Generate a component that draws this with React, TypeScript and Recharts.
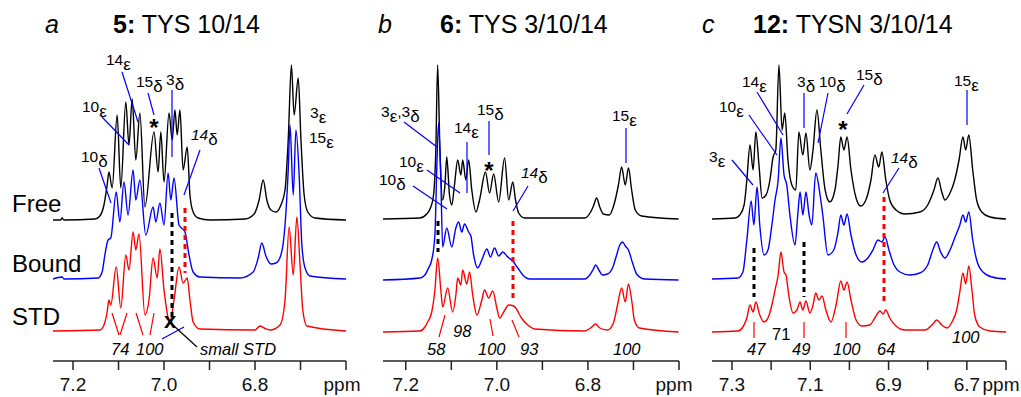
import React from 'react';
import { LineChart, Line, XAxis, YAxis } from 'recharts';

type Pt = [number, number];

// [ppm, height above the trace's own baseline]
// panel a  -  5: TYS 10/14
const freeA: Pt[] = [
  [7.244, 0], [7.227, 0], [7.224, 2], [7.22, 0], [7.152, 1], [7.141, 4], [7.132, 15], [7.125, 35],
  [7.121, 48], [7.114, 32], [7.103, 105], [7.095, 32], [7.084, 118], [7.077, 75], [7.07, 121],
  [7.062, 60], [7.053, 107], [7.042, 13], [7.022, 88], [7.013, 48], [7.007, 88], [7.0, 38],
  [6.989, 107], [6.982, 80], [6.976, 110], [6.971, 85], [6.965, 110], [6.958, 50], [6.949, 73],
  [6.943, 25], [6.936, 8], [6.925, 2], [6.899, 0], [6.822, 1], [6.802, 6], [6.791, 20], [6.782, 40],
  [6.774, 20], [6.765, 10], [6.754, 8], [6.743, 15], [6.734, 30], [6.727, 80], [6.72, 155],
  [6.714, 105], [6.705, 142], [6.699, 80], [6.692, 25], [6.684, 8], [6.668, 2], [6.6, 0],
];
const boundA: Pt[] = [
  [7.244, 0], [7.224, 2], [7.22, 0], [7.145, 1], [7.136, 7], [7.13, 24], [7.123, 39], [7.117, 41],
  [7.105, 87], [7.097, 57], [7.088, 97], [7.079, 64], [7.068, 109], [7.062, 79], [7.053, 99],
  [7.04, 44], [7.024, 72], [7.018, 57], [7.009, 76], [7.0, 54], [6.991, 106], [6.985, 79],
  [6.978, 101], [6.967, 54], [6.954, 47], [6.945, 24], [6.936, 7], [6.921, 2], [6.833, 1],
  [6.804, 7], [6.793, 21], [6.785, 36], [6.776, 23], [6.765, 15], [6.754, 16], [6.743, 24],
  [6.734, 54], [6.727, 109], [6.723, 154], [6.716, 84], [6.71, 149], [6.703, 104], [6.697, 34],
  [6.69, 11], [6.679, 3], [6.6, 0],
];
const stdA: Pt[] = [
  [7.244, 0], [7.141, 1], [7.132, 6], [7.125, 19], [7.121, 31], [7.117, 26], [7.105, 64],
  [7.095, 23], [7.084, 76], [7.077, 61], [7.068, 99], [7.062, 81], [7.055, 97], [7.042, 16],
  [7.033, 31], [7.024, 73], [7.015, 53], [7.009, 82], [7.0, 41], [6.987, 9], [6.978, 31],
  [6.967, 64], [6.958, 48], [6.949, 53], [6.943, 31], [6.936, 9], [6.921, 2], [6.8, 1],
  [6.789, 5], [6.78, 3], [6.767, 1], [6.745, 6], [6.734, 31], [6.725, 104], [6.716, 56],
  [6.708, 114], [6.701, 66], [6.695, 21], [6.686, 5], [6.6, 0],
];

// panel b  -  6: TYS 3/10/14
const freeB: Pt[] = [
  [7.25, 0], [7.169, 1], [7.154, 5], [7.145, 12], [7.139, 24], [7.134, 69], [7.13, 154],
  [7.125, 69], [7.119, 19], [7.114, 34], [7.11, 62], [7.104, 24], [7.099, 14], [7.093, 34],
  [7.086, 59], [7.079, 44], [7.075, 59], [7.068, 39], [7.062, 59], [7.055, 29], [7.046, 7],
  [7.038, 19], [7.025, 47], [7.016, 26], [7.007, 45], [6.996, 17], [6.983, 61], [6.974, 19],
  [6.965, 37], [6.959, 19], [6.952, 6], [6.939, 1], [6.807, 1], [6.794, 7], [6.787, 14],
  [6.781, 21], [6.774, 12], [6.766, 5], [6.753, 4], [6.743, 14], [6.733, 34], [6.726, 52],
  [6.718, 34], [6.711, 51], [6.704, 29], [6.696, 9], [6.682, 3], [6.601, 0],
];
const boundB: Pt[] = [
  [7.25, 0], [7.169, 2], [7.158, 5], [7.15, 12], [7.143, 20], [7.136, 45], [7.132, 110],
  [7.128, 157], [7.123, 100], [7.119, 33], [7.11, 52], [7.099, 33], [7.09, 52], [7.084, 58],
  [7.077, 48], [7.071, 56], [7.062, 48], [7.057, 44], [7.051, 25], [7.042, 12], [7.033, 20],
  [7.022, 31], [7.014, 23], [7.005, 32], [6.996, 24], [6.987, 28], [6.976, 23], [6.965, 19],
  [6.954, 12], [6.943, 5], [6.928, 1], [6.807, 1], [6.796, 5], [6.789, 10], [6.783, 15],
  [6.776, 10], [6.768, 5], [6.757, 6], [6.746, 12], [6.737, 25], [6.73, 35], [6.724, 38],
  [6.718, 34], [6.711, 30], [6.702, 17], [6.693, 6], [6.676, 1], [6.601, 0],
];
const stdB: Pt[] = [
  [7.25, 0], [7.169, 1], [7.158, 5], [7.152, 10], [7.143, 20], [7.136, 42], [7.13, 74],
  [7.123, 42], [7.119, 25], [7.108, 44], [7.097, 20], [7.09, 37], [7.086, 54], [7.079, 47],
  [7.075, 62], [7.066, 48], [7.06, 60], [7.053, 37], [7.044, 17], [7.033, 32], [7.027, 42],
  [7.018, 34], [7.009, 41], [7.0, 24], [6.994, 14], [6.985, 20], [6.974, 27], [6.963, 26],
  [6.957, 23], [6.946, 14], [6.932, 7], [6.917, 3], [6.807, 1], [6.794, 4], [6.783, 8],
  [6.774, 4], [6.757, 2], [6.744, 9], [6.735, 27], [6.726, 44], [6.718, 30], [6.711, 48],
  [6.704, 32], [6.698, 12], [6.687, 4], [6.601, 0],
];

// panel c  -  12: TYSN 3/10/14
const freeC: Pt[] = [
  [7.351, 0], [7.292, 1], [7.28, 4], [7.269, 14], [7.262, 39], [7.254, 74], [7.246, 49],
  [7.239, 87], [7.231, 54], [7.223, 21], [7.213, 24], [7.203, 39], [7.195, 62], [7.188, 69],
  [7.18, 154], [7.172, 89], [7.165, 106], [7.157, 59], [7.147, 34], [7.137, 29], [7.129, 87],
  [7.119, 64], [7.111, 86], [7.101, 49], [7.093, 69], [7.083, 109], [7.073, 69], [7.062, 29],
  [7.05, 17], [7.037, 29], [7.029, 54], [7.022, 82], [7.014, 69], [7.006, 82], [6.996, 49],
  [6.983, 21], [6.971, 13], [6.958, 19], [6.945, 39], [6.935, 64], [6.925, 52], [6.917, 67],
  [6.907, 39], [6.897, 19], [6.881, 9], [6.858, 5], [6.82, 7], [6.8, 14], [6.784, 29],
  [6.774, 41], [6.764, 27], [6.756, 19], [6.743, 26], [6.731, 39], [6.72, 59], [6.71, 82],
  [6.703, 69], [6.695, 84], [6.685, 49], [6.675, 19], [6.662, 7], [6.641, 2], [6.6, 0],
];
const boundC: Pt[] = [
  [7.351, 0], [7.285, 1], [7.272, 7], [7.262, 39], [7.251, 78], [7.244, 54], [7.236, 92],
  [7.229, 54], [7.218, 24], [7.208, 29], [7.198, 54], [7.19, 79], [7.182, 99], [7.175, 141],
  [7.167, 104], [7.16, 94], [7.152, 64], [7.139, 34], [7.132, 64], [7.126, 87], [7.119, 64],
  [7.111, 87], [7.103, 64], [7.096, 54], [7.086, 106], [7.075, 84], [7.068, 64], [7.055, 24],
  [7.04, 29], [7.029, 47], [7.022, 64], [7.014, 54], [7.006, 65], [6.996, 44], [6.983, 24],
  [6.968, 17], [6.953, 21], [6.94, 29], [6.927, 39], [6.917, 37], [6.909, 42], [6.899, 29],
  [6.886, 14], [6.871, 7], [6.846, 4], [6.82, 6], [6.8, 14], [6.787, 29], [6.777, 37],
  [6.767, 27], [6.756, 21], [6.743, 29], [6.731, 41], [6.718, 54], [6.71, 64], [6.703, 57],
  [6.695, 67], [6.685, 39], [6.675, 19], [6.659, 7], [6.636, 2], [6.6, 0],
];
const stdC: Pt[] = [
  [7.351, 0], [7.285, 1], [7.272, 5], [7.262, 14], [7.254, 27], [7.246, 20], [7.239, 30],
  [7.229, 17], [7.218, 10], [7.208, 14], [7.198, 27], [7.19, 42], [7.182, 57], [7.175, 80],
  [7.167, 60], [7.162, 57], [7.155, 37], [7.144, 19], [7.134, 22], [7.126, 30], [7.119, 22],
  [7.111, 31], [7.101, 19], [7.093, 27], [7.086, 39], [7.078, 32], [7.07, 36], [7.06, 22],
  [7.047, 10], [7.034, 27], [7.022, 51], [7.014, 42], [7.006, 50], [6.996, 32], [6.983, 12],
  [6.968, 6], [6.948, 7], [6.935, 14], [6.922, 21], [6.914, 18], [6.907, 22], [6.897, 14],
  [6.881, 6], [6.858, 2], [6.807, 2], [6.789, 7], [6.777, 12], [6.764, 7], [6.751, 4],
  [6.738, 10], [6.726, 22], [6.718, 40], [6.71, 59], [6.703, 48], [6.695, 66], [6.687, 42],
  [6.68, 17], [6.667, 5], [6.641, 1], [6.6, 0],
];

const ticksAB = [7.2, 7.1, 7.0, 6.9, 6.8, 6.7, 6.6];
const ticksC = [7.3, 7.2, 7.1, 7.0, 6.9, 6.8, 6.7, 6.6];
const labelsAB = ['7.2', '7.0', '6.8'];
const labelsC = ['7.3', '7.1', '6.9', '6.7'];

const FONT = '"Liberation Sans", Arial, Helvetica, sans-serif';
const BLUE = '#0000ff';
const RED = '#ff0000';

const H = 397;
const PLOT_H = 321; // plot area is 40..361

interface Panel {
  left: number;
  width: number;
  mLeft: number;
  mRight: number;
  domain: [number, number];
  ticks: number[];
  labels: string[];
  ppmDx: number;
  traces: { data: Pt[]; color: string; base: number }[];
}

const panels: Panel[] = [
  {
    left: 0, width: 360, mLeft: 53, mRight: 14, domain: [6.6, 7.244], ticks: ticksAB, labels: labelsAB, ppmDx: -4,
    traces: [
      { data: freeA, color: '#000', base: 141 },
      { data: boundA, color: BLUE, base: 82 },
      { data: stdA, color: RED, base: 30 },
    ],
  },
  {
    left: 360, width: 340, mLeft: 23, mRight: 21, domain: [6.6, 7.25], ticks: ticksAB, labels: labelsAB, ppmDx: -5,
    traces: [
      { data: freeB, color: '#000', base: 142 },
      { data: boundB, color: BLUE, base: 81 },
      { data: stdB, color: RED, base: 29 },
    ],
  },
  {
    left: 700, width: 321, mLeft: 12, mRight: 15, domain: [6.6, 7.351], ticks: ticksC, labels: labelsC, ppmDx: -5,
    traces: [
      { data: freeC, color: '#000', base: 142 },
      { data: boundC, color: BLUE, base: 82 },
      { data: stdC, color: RED, base: 29 },
    ],
  },
];

const rows = (pts: Pt[], base: number) => pts.map(([x, h]) => ({ x, y: h + base }));

const Spectrum = ({ p }: { p: Panel }) => {
  const renderTick = (props: any) => {
    const { x, y, payload } = props;
    const v = Number(payload.value).toFixed(1);
    let txt = p.labels.includes(v) ? v : '';
    let dx = 0;
    if (v === '6.6') {
      txt = 'ppm';
      dx = p.ppmDx;
    }
    return (
      <text x={x + dx} y={y + 19} textAnchor="middle" fontSize={19} fontFamily={FONT} fill="#111">
        {txt}
      </text>
    );
  };
  return (
    <div style={{ position: 'absolute', left: p.left, top: 0 }}>
      <LineChart width={p.width} height={H} margin={{ top: 40, right: p.mRight, bottom: 0, left: p.mLeft }}>
        <XAxis
          type="number"
          dataKey="x"
          domain={p.domain}
          reversed
          allowDataOverflow
          ticks={p.ticks}
          interval={0}
          height={36}
          tickSize={9}
          stroke="#222"
          strokeWidth={1.5}
          tick={renderTick}
        />
        <YAxis hide type="number" domain={[0, PLOT_H]} allowDataOverflow />
        {p.traces.map((t, i) => (
          <Line
            key={i}
            data={rows(t.data, t.base)}
            dataKey="y"
            type="monotone"
            stroke={t.color}
            strokeWidth={1.4}
            dot={false}
            activeDot={false}
            isAnimationActive={false}
          />
        ))}
      </LineChart>
    </div>
  );
};

// peak label: number + greek subscript
const Tag = ({ x, y, n, g, it }: { x: number; y: number; n: string; g: string; it?: boolean }) => (
  <text x={x} y={y} fontSize={15.5} fontFamily={FONT} fill="#000">
    <tspan fontStyle={it ? 'italic' : 'normal'}>{n}</tspan>
    <tspan fontSize={17} dy={5}>{g}</tspan>
  </text>
);

const Lead = ({ l, c = BLUE, w = 1.2 }: { l: number[]; c?: string; w?: number }) => (
  <line x1={l[0]} y1={l[1]} x2={l[2]} y2={l[3]} stroke={c} strokeWidth={w} />
);

const Dash = ({ x, y1, y2, c }: { x: number; y1: number; y2: number; c: string }) => (
  <line x1={x} y1={y1} x2={x} y2={y2} stroke={c} strokeWidth={3} strokeDasharray="5 4" />
);

const Star = ({ x, y }: { x: number; y: number }) => (
  <text x={x} y={y + 13} textAnchor="middle" fontSize={24} fontWeight="bold" fontFamily={FONT}>*</text>
);

const Num = ({ x, y, t, it = true }: { x: number; y: number; t: string; it?: boolean }) => (
  <text x={x} y={y} fontSize={16.5} fontStyle={it ? 'italic' : 'normal'} fontFamily={FONT}>{t}</text>
);

const Title = ({ x, lx, letter, bold, rest }: { x: number; lx: number; letter: string; bold: string; rest: string }) => (
  <g fontFamily={FONT} fontSize={25}>
    <text x={lx} y={33} fontStyle="italic">{letter}</text>
    <text x={x} y={33}>
      <tspan fontWeight="bold">{bold}</tspan>
      <tspan>{rest}</tspan>
    </text>
  </g>
);

const Notes = () => (
  <svg width={1021} height={H} style={{ position: 'absolute', left: 0, top: 0, pointerEvents: 'none' }}>
    <Title lx={45} x={113} letter="a" bold="5:" rest=" TYS 10/14" />
    <Title lx={378} x={440} letter="b" bold="6:" rest=" TYS 3/10/14" />
    <Title lx={702} x={753} letter="c" bold="12:" rest=" TYSN 3/10/14" />

    <g fontFamily={FONT} fontSize={24}>
      <text x={12} y={212}>Free</text>
      <text x={12} y={272}>Bound</text>
      <text x={12} y={325}>STD</text>
    </g>

    {/* panel a */}
    <Tag x={106} y={65} n="14" g="ε" />
    <Tag x={136} y={87} n="15" g="δ" />
    <Tag x={166} y={85} n="3" g="δ" />
    <Tag x={82} y={112} n="10" g="ε" />
    <Tag x={81} y={162} n="10" g="δ" />
    <Tag x={310} y={118} n="3" g="ε" />
    <Tag x={309} y={143} n="15" g="ε" />
    <Tag x={191} y={140} n="14" g="δ" it />
    <Lead l={[122, 72, 138, 122]} />
    <Lead l={[148, 93, 154, 115]} />
    <Lead l={[172, 90, 172, 157]} />
    <Lead l={[102, 117, 129, 145]} />
    <Lead l={[99, 168, 111, 203]} />
    <Lead l={[200, 150, 184, 195]} />
    <Star x={154} y={123} />
    <Dash x={172} y1={213} y2={318} c="#000" />
    <Dash x={185} y1={208} y2={273} c={RED} />
    <Lead l={[112, 313, 119, 335]} c={RED} />
    <Lead l={[127, 313, 120, 335]} c={RED} />
    <Lead l={[136, 313, 143, 335]} c={RED} />
    <Lead l={[154, 313, 150, 335]} c={RED} />
    <Num x={111} y={355} t="74" />
    <Num x={136} y={355} t="100" />
    <text x={170} y={328} textAnchor="middle" fontSize={22} fontWeight="bold" fontFamily={FONT}>x</text>
    <Lead l={[162, 339, 184, 327]} />
    <Lead l={[174, 326, 197, 347]} c="#000" />
    <Num x={200} y={355} t="small STD" />

    {/* panel b */}
    <text x={381} y={117} fontSize={15.5} fontFamily={FONT}>
      <tspan>3</tspan>
      <tspan fontSize={17} dy={5}>ε</tspan>
      <tspan dy={-5}>,3</tspan>
      <tspan fontSize={17} dy={5}>δ</tspan>
    </text>
    <Tag x={454} y={133} n="14" g="ε" />
    <Tag x={477} y={115} n="15" g="δ" />
    <Tag x={399} y={167} n="10" g="ε" />
    <Tag x={379} y={185} n="10" g="δ" />
    <Tag x={521} y={178} n="14" g="δ" it />
    <Tag x={612} y={121} n="15" g="ε" />
    <Lead l={[404, 122, 437, 147]} />
    <Lead l={[467, 142, 467, 193]} />
    <Lead l={[489, 121, 489, 155]} />
    <Lead l={[427, 170, 460, 193]} />
    <Lead l={[413, 186, 447, 209]} />
    <Lead l={[528, 186, 513, 211]} />
    <Lead l={[626, 128, 626, 163]} />
    <Star x={489} y={166} />
    <Dash x={438} y1={221} y2={252} c="#000" />
    <Dash x={513} y1={221} y2={300} c={RED} />
    <Lead l={[445, 315, 439, 337]} c={RED} />
    <Lead l={[490, 319, 493, 336]} c={RED} />
    <Lead l={[512, 320, 519, 337]} c={RED} />
    <Num x={427} y={355} t="58" />
    <Num x={453} y={337} t="98" />
    <Num x={478} y={355} t="100" />
    <Num x={520} y={355} t="93" />
    <Num x={613} y={355} t="100" />

    {/* panel c */}
    <Tag x={742} y={87} n="14" g="ε" />
    <Tag x={719} y={112} n="10" g="ε" />
    <Tag x={797} y={87} n="3" g="δ" />
    <Tag x={819} y={87} n="10" g="δ" />
    <Tag x={856} y={80} n="15" g="δ" />
    <Tag x={954} y={86} n="15" g="ε" />
    <Tag x={709} y={162} n="3" g="ε" />
    <Tag x={891} y={163} n="14" g="δ" it />
    <Lead l={[757, 92, 783, 135]} />
    <Lead l={[749, 115, 777, 155]} />
    <Lead l={[804, 93, 804, 128]} />
    <Lead l={[828, 93, 818, 143]} />
    <Lead l={[864, 85, 847, 114]} />
    <Lead l={[967, 90, 967, 125]} />
    <Lead l={[732, 160, 753, 185]} />
    <Lead l={[899, 168, 883, 193]} />
    <Star x={843} y={125} />
    <Dash x={754} y1={248} y2={297} c="#000" />
    <Dash x={804} y1={242} y2={297} c="#000" />
    <Dash x={884} y1={197} y2={305} c={RED} />
    <Lead l={[754, 322, 754, 338]} c={RED} />
    <Lead l={[804, 322, 804, 338]} c={RED} />
    <Lead l={[846, 322, 846, 338]} c={RED} />
    <Num x={747} y={355} t="47" />
    <Num x={772} y={340} t="71" it={false} />
    <Num x={792} y={355} t="49" />
    <Num x={833} y={355} t="100" />
    <Num x={877} y={355} t="64" />
    <Num x={952} y={343} t="100" />
  </svg>
);

export default function App() {
  return (
    <div style={{ position: 'absolute', left: 0, top: 0, width: 1021, height: H, background: '#fff' }}>
      {panels.map((p, i) => (
        <Spectrum key={i} p={p} />
      ))}
      <Notes />
    </div>
  );
}
